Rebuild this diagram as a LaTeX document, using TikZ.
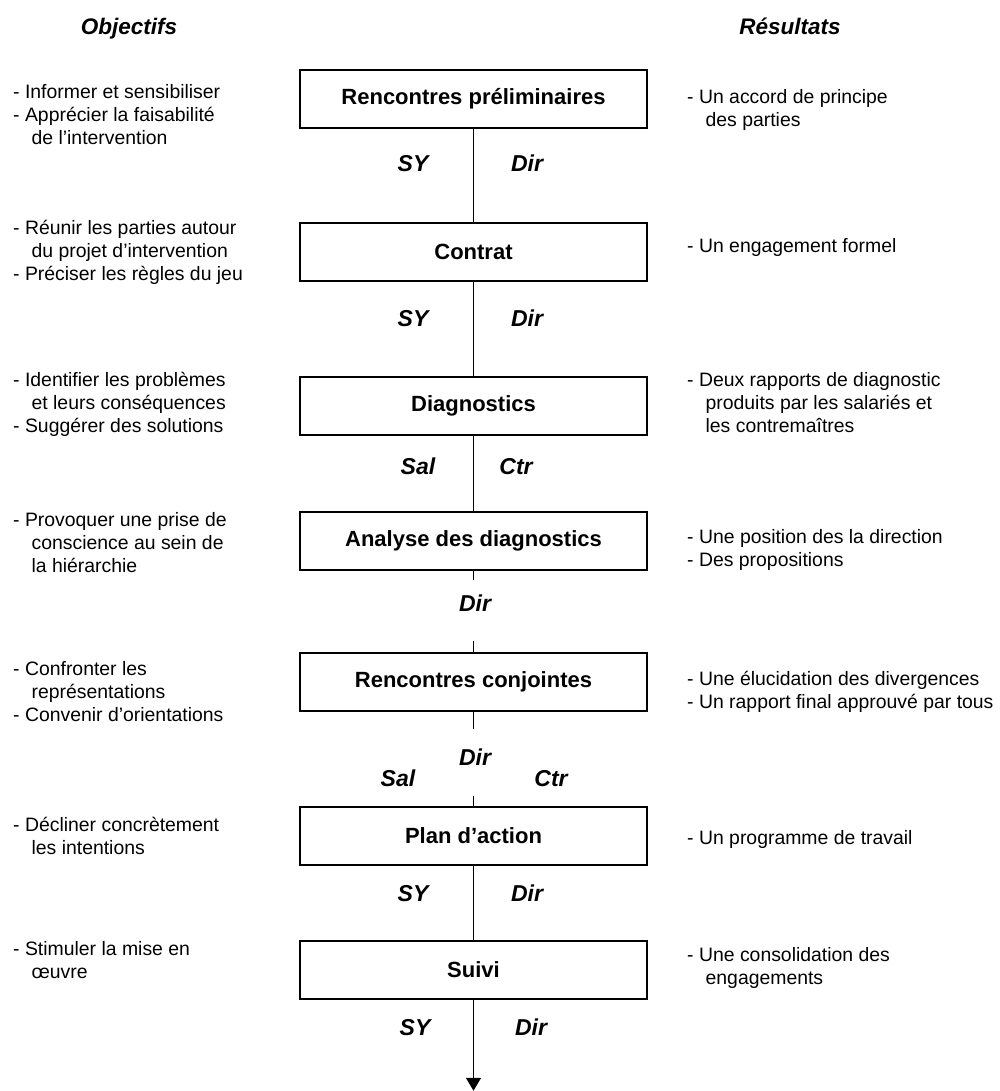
\documentclass[tikz,border=0pt]{standalone}
\usepackage{fontspec}
\setmainfont{Liberation Sans}
\usetikzlibrary{positioning,arrows.meta}

\tikzset{
  etape/.style={draw, line width=1.5pt, minimum width=347pt, minimum height=58pt,
    inner sep=0pt, font=\fontsize{22}{26}\selectfont\bfseries},
  lien/.style={line width=1.5pt},
  acteur/.style={anchor=base, inner sep=0pt, font=\fontsize{23}{27}\selectfont\bfseries\itshape},
  titre/.style={anchor=base, inner sep=0pt, font=\fontsize{22.5}{27}\selectfont\bfseries\itshape},
  liste/.style={anchor=north west, align=left, inner sep=0pt,
    font=\fontsize{19.4}{23}\selectfont, execute at begin node=\strut},
}
\newcommand{\suite}{\hspace*{0.95em}}

\begin{document}
\begin{tikzpicture}[x=1pt,y=-1pt]
  \useasboundingbox (0,0) rectangle (999,1091);

  % column titles
  \node (tobj) [titre] at (129,35) {Objectifs};
  \node (tres) [titre] at (790,35) {Résultats};

  % steps
  \node (prelim)  [etape] at (473.5,99)  {Rencontres préliminaires};
  \node (contrat) [etape] at (473.5,252) {Contrat};
  \node (diag)    [etape] at (473.5,406) {Diagnostics};
  \node (analyse) [etape] at (473.5,541) {Analyse des diagnostics};
  \node (conj)    [etape] at (473.5,682) {Rencontres conjointes};
  \node (plan)    [etape] at (473.5,836) {Plan d’action};
  \node (suivi)   [etape] at (473.5,970) {Suivi};

  % links
  \draw[lien] (prelim) -- (contrat);
  \draw[lien] (contrat) -- (diag);
  \draw[lien] (diag) -- (analyse);
  \coordinate[below=9pt of analyse] (a1);
  \coordinate[above=11pt of conj] (a2);
  \draw[lien] (analyse) -- (a1);
  \draw[lien] (a2) -- (conj);
  \coordinate[below=17pt of conj] (b1);
  \coordinate[above=10pt of plan] (b2);
  \draw[lien] (conj) -- (b1);
  \draw[lien] (b2) -- (plan);
  \draw[lien] (plan) -- (suivi);
  \coordinate[below=91pt of suivi] (fin);
  \draw[lien,-{Triangle[width=15pt,length=13pt]}] (suivi) -- (fin);

  % actors
  \node (sy1)  [acteur] at (413,172)  {SY};
  \node (dir1) [acteur] at (527,172)  {Dir};
  \node (sy2)  [acteur] at (413,326)  {SY};
  \node (dir2) [acteur] at (527,326)  {Dir};
  \node (sal3) [acteur] at (418,474)  {Sal};
  \node (ctr3) [acteur] at (516,474)  {Ctr};
  \node (dir4) [acteur] at (475,611)  {Dir};
  \node (dir5) [acteur] at (475,765)  {Dir};
  \node (sal5) [acteur] at (398,786)  {Sal};
  \node (ctr5) [acteur] at (551,786)  {Ctr};
  \node (sy6)  [acteur] at (413,901)  {SY};
  \node (dir6) [acteur] at (527,901)  {Dir};
  \node (sy7)  [acteur] at (415,1035) {SY};
  \node (dir7) [acteur] at (531,1035) {Dir};

  % objectives
  \node (obj1) [liste] at (13,84)  {- Informer et sensibiliser\\- Apprécier la faisabilité\\\suite de l’intervention};
  \node (obj2) [liste] at (13,220) {- Réunir les parties autour\\\suite du projet d’intervention\\- Préciser les règles du jeu};
  \node (obj3) [liste] at (13,372) {- Identifier les problèmes\\\suite et leurs conséquences\\- Suggérer des solutions};
  \node (obj4) [liste] at (13,512) {- Provoquer une prise de\\\suite conscience au sein de\\\suite la hiérarchie};
  \node (obj5) [liste] at (13,661) {- Confronter les\\\suite représentations\\- Convenir d’orientations};
  \node (obj6) [liste] at (13,817) {- Décliner concrètement\\\suite les intentions};
  \node (obj7) [liste] at (13,941) {- Stimuler la mise en\\\suite œuvre};

  % results
  \node (res1) [liste] at (687,89)  {- Un accord de principe\\\suite des parties};
  \node (res2) [liste] at (687,236) {- Un engagement formel};
  \node (res3) [liste] at (687,372) {- Deux rapports de diagnostic\\\suite produits par les salariés et\\\suite les contremaîtres};
  \node (res4) [liste] at (687,529) {- Une position des la direction\\- Des propositions};
  \node (res5) [liste] at (687,671) {- Une élucidation des divergences\\- Un rapport final approuvé par tous};
  \node (res6) [liste] at (687,828) {- Un programme de travail};
  \node (res7) [liste] at (687,947) {- Une consolidation des\\\suite engagements};
\end{tikzpicture}
\end{document}
